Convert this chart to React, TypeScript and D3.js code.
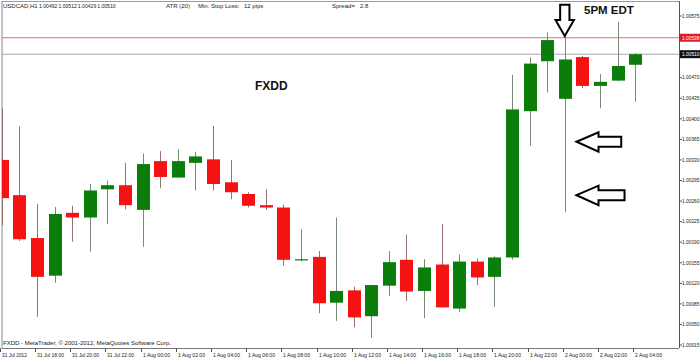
import React from "react";
import * as d3 from "d3";

const opens = [1.0033, 1.0027, 1.00197, 1.00133, 1.0024, 1.00232, 1.0028, 1.00287, 1.00245, 1.00328, 1.003, 1.00325, 1.00331, 1.00292, 1.00272, 1.00253, 1.00249, 1.0016, 1.00165, 1.00087, 1.00108, 1.00064, 1.00116, 1.0016, 1.00107, 1.00152, 1.00077, 1.00157, 1.00131, 1.00164, 1.00413, 1.00498, 1.00434, 1.00505, 1.00456, 1.00465, 1.00492];
const highs = [1.00418, 1.00387, 1.00255, 1.0025, 1.00252, 1.00289, 1.00295, 1.00325, 1.00341, 1.00345, 1.00348, 1.00344, 1.00388, 1.0033, 1.00275, 1.0028, 1.00254, 1.00212, 1.00175, 1.00232, 1.00114, 1.00117, 1.00175, 1.00203, 1.00161, 1.00221, 1.00169, 1.00162, 1.00166, 1.00475, 1.00505, 1.00547, 1.00541, 1.00507, 1.00476, 1.00565, 1.00512];
const lows = [1.00219, 1.00192, 1.00063, 1.00121, 1.00191, 1.00174, 1.00221, 1.00246, 1.00182, 1.00282, 1.003, 1.00278, 1.00278, 1.00263, 1.00249, 1.00245, 1.0015, 1.00157, 1.00069, 1.00056, 1.00045, 1.00027, 1.00098, 1.0009, 1.00061, 1.00079, 1.00071, 1.00117, 1.0008, 1.0016, 1.00354, 1.00445, 1.00241, 1.00452, 1.00418, 1.00464, 1.00429];
const closes = [1.00265, 1.00195, 1.00131, 1.00238, 1.00232, 1.00278, 1.00287, 1.00253, 1.00323, 1.00301, 1.00328, 1.00336, 1.00289, 1.00275, 1.00252, 1.00249, 1.0016, 1.00161, 1.00086, 1.00107, 1.00062, 1.00117, 1.00156, 1.00106, 1.00147, 1.00079, 1.00157, 1.0013, 1.00164, 1.00416, 1.00494, 1.00534, 1.00501, 1.00456, 1.00463, 1.0049, 1.0051];

const timeLabels = ["31 Jul 2012", "31 Jul 18:00", "31 Jul 20:00", "31 Jul 22:00", "1 Aug 00:00", "1 Aug 02:00", "1 Aug 04:00", "1 Aug 06:00", "1 Aug 08:00", "1 Aug 10:00", "1 Aug 12:00", "1 Aug 14:00", "1 Aug 16:00", "1 Aug 18:00", "1 Aug 20:00", "1 Aug 22:00", "2 Aug 00:00", "2 Aug 02:00", "2 Aug 04:00"];
const timeLabelIndex = [0, 2, 4, 6, 8, 10, 12, 14, 16, 18, 20, 22, 24, 26, 28, 30, 32, 34, 36];

const priceTicks = [1.00575, 1.0047, 1.00435, 1.004, 1.00365, 1.0033, 1.00295, 1.0026, 1.00225, 1.0019, 1.00155, 1.0012, 1.00085, 1.0005, 1.00015];
const askPrice = 1.00538;
const bidPrice = 1.0051;

const headerSymbol = "USDCAD,H1";
const headerPrices = ["1.00492", "1.00512", "1.00429", "1.00510"];

// annotation anchors: [candle index, price]
const downArrow = [32, 1.00541];
const leftArrows = [[32.67, 1.00361], [32.67, 1.0027]];

const W = 700;
const H = 358;
const L = 2;
const R = 679;
const T = 1;
const B = 348;

export default function App() {
  const x = d3.scaleLinear().domain([0, 36]).range([1.9, 635.1]);
  const y = d3.scaleLinear().domain([1.00015, 1.00575]).range([345, 16]);
  const bw = 13;
  const up = "#0b7d0b";
  const dn = "#f51212";

  const candles = opens.map((o, i) => {
    const c = closes[i];
    const bull = c >= o;
    const cx = Math.round(x(i)) + 0.5;
    const top = y(Math.max(o, c));
    const bot = y(Math.min(o, c));
    return (
      <g key={i}>
        <line x1={cx} x2={cx} y1={y(highs[i])} y2={y(lows[i])} stroke={bull ? "#7a8a7a" : "#9a7070"} strokeWidth={1} />
        <rect x={cx - bw / 2} y={top} width={bw} height={Math.max(1.2, bot - top)} fill={bull ? up : dn} />
      </g>
    );
  });

  const dx = x(downArrow[0]);
  const dy = y(downArrow[1]);
  const downPath = `M${dx - 4.6},${dy - 31.3} L${dx + 4.7},${dy - 31.3} L${dx + 4.7},${dy - 16} L${dx + 9.2},${dy - 16} L${dx},${dy} L${dx - 9.2},${dy - 16} L${dx - 4.6},${dy - 16} Z`;

  return (
    <svg width={W} height={H} style={{ position: "fixed", left: 0, top: 0, background: "#fff" }} fontFamily="Liberation Sans, Arial, sans-serif">
      <rect x={0} y={0} width={W} height={H} fill="#fff" />
      <defs>
        <clipPath id="plot">
          <rect x={L} y={T} width={R - L} height={B - T} />
        </clipPath>
      </defs>
      {/* frame */}
      <line x1={L} x2={L} y1={T} y2={B} stroke="#8a8a8a" />
      <line x1={L} x2={R} y1={T + 0.5} y2={T + 0.5} stroke="#9a9a9a" />
      {/* ask / bid lines */}
      <line x1={L} x2={R} y1={y(askPrice)} y2={y(askPrice)} stroke="#e07070" strokeWidth={1} />
      <line x1={L} x2={R} y1={y(bidPrice)} y2={y(bidPrice)} stroke="#a8a8a8" strokeWidth={1} />
      <g clipPath="url(#plot)">{candles}</g>
      {/* axes */}
      <line x1={R + 0.5} x2={R + 0.5} y1={T} y2={B} stroke="#555" />
      <line x1={L} x2={R} y1={B + 0.5} y2={B + 0.5} stroke="#777" />
      {priceTicks.map((p) => (
        <g key={p}>
          <line x1={R} x2={R + 3} y1={y(p)} y2={y(p)} stroke="#555" />
          <text x={682} y={y(p) + 1.8} fontSize={5.2} fill="#222" textLength={17.5} lengthAdjust="spacingAndGlyphs">
            {p.toFixed(5)}
          </text>
        </g>
      ))}
      <rect x={680} y={y(askPrice) - 4} width={20} height={8} fill="#e02020" />
      <text x={682} y={y(askPrice) + 1.8} fontSize={5.2} fill="#fff" textLength={17.5} lengthAdjust="spacingAndGlyphs">
        {askPrice.toFixed(5)}
      </text>
      <rect x={680} y={y(bidPrice) - 4} width={20} height={8} fill="#111" />
      <text x={682} y={y(bidPrice) + 1.8} fontSize={5.2} fill="#fff" textLength={17.5} lengthAdjust="spacingAndGlyphs">
        {bidPrice.toFixed(5)}
      </text>
      {timeLabels.map((t, k) => {
        const tx = Math.round(x(timeLabelIndex[k]));
        return (
          <g key={t}>
            <line x1={tx - 1.5} x2={tx - 1.5} y1={B} y2={B + 4} stroke="#555" />
            <text x={tx} y={356.5} fontSize={5.6} fill="#222" textLength={t === "31 Jul 2012" ? 25 : 27} lengthAdjust="spacingAndGlyphs">
              {t}
            </text>
          </g>
        );
      })}
      {/* header */}
      <text x={3} y={8} fontSize={6} fill="#222">{headerSymbol}</text>
      {headerPrices.map((p, k) => (
        <text key={k} x={39 + k * 19.4} y={8} fontSize={5.1} fill="#222">
          {p}
        </text>
      ))}
      <text x={166} y={8} fontSize={6} fill="#222">ATR (20)</text>
      <text x={198} y={8} fontSize={6} fill="#222">Min. Stop Loss:</text>
      <text x={244} y={8} fontSize={6} fill="#222">12 pips</text>
      <text x={332} y={8} fontSize={6} fill="#222">Spread</text>
      <text x={351.5} y={8} fontSize={6} fill="#222">=</text>
      <text x={360} y={8} fontSize={6} fill="#222">2.8</text>
      <text x={255} y={89.5} fontSize={12} fontWeight="bold" fill="#111">FXDD</text>
      <text x={584} y={13.5} fontSize={11.5} fontWeight="bold" fill="#111">5PM EDT</text>
      <text x={3} y={345} fontSize={6} fill="#222">FXDD - MetaTrader, © 2001-2012, MetaQuotes Software Corp.</text>
      {/* annotations */}
      <path d={downPath} fill="#fff" stroke="#000" strokeWidth={2} strokeLinejoin="miter" />
      {leftArrows.map((a, k) => {
        const ax = x(a[0]);
        const ay = y(a[1]);
        const tail = k === 0 ? 44.7 : 48;
        const d = `M${ax},${ay} L${ax + 22},${ay - 9.5} L${ax + 22},${ay - 5} L${ax + tail},${ay - 5} L${ax + tail},${ay + 5} L${ax + 22},${ay + 5} L${ax + 22},${ay + 10} Z`;
        return <path key={k} d={d} fill="#fff" stroke="#000" strokeWidth={2} />;
      })}
    </svg>
  );
}
